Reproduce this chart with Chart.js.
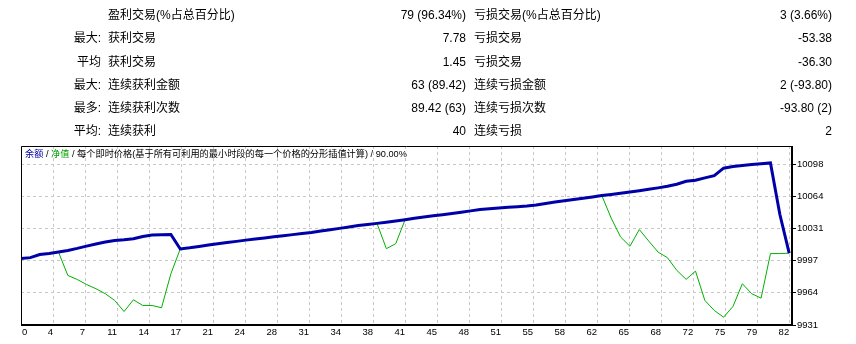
<!DOCTYPE html>
<html><head><meta charset="utf-8">
<script src="https://cdn.jsdelivr.net/npm/chart.js@4.4.1/dist/chart.umd.min.js"></script>
<style>
html,body{margin:0;padding:0;background:#fff;width:856px;height:344px;overflow:hidden;}
#wrap{position:relative;width:856px;height:344px;}
canvas{position:absolute;left:0;top:0;}
.t{position:absolute;font-family:"Liberation Sans","Noto Sans CJK SC",sans-serif;font-size:12px;line-height:16px;color:#000;white-space:nowrap;z-index:2;}
#legend{position:absolute;left:25px;top:148px;font-family:"Liberation Sans","Noto Sans CJK SC",sans-serif;font-size:9.2px;line-height:12px;white-space:nowrap;color:#000;z-index:2;}
</style></head>
<body><div id="wrap"><canvas id="c" width="856" height="344"></canvas><div id="stats"></div><div id="legend"></div></div>
<script>
// ---- summary table ----
const statPrefixes = ["", "最大:", "平均", "最大:", "最多:", "平均:"];
const winLabels = ["盈利交易(%占总百分比)", "获利交易", "获利交易", "连续获利金额", "连续获利次数", "连续获利"];
const winValues = ["79 (96.34%)", "7.78", "1.45", "63 (89.42)", "89.42 (63)", "40"];
const lossLabels = ["亏损交易(%占总百分比)", "亏损交易", "亏损交易", "连续亏损金额", "连续亏损次数", "连续亏损"];
const lossValues = ["3 (3.66%)", "-53.38", "-36.30", "2 (-93.80)", "-93.80 (2)", "2"];

// ---- legend text ----
const legendParts = [
  {text: "余额", color: "#0000a0"},
  {text: " / ", color: "#000"},
  {text: "净值", color: "#00a000"},
  {text: " / 每个即时价格(基于所有可利用的最小时段的每一个价格的分形插值计算) / 90.00%", color: "#000"}
];

// ---- axes ----
const xTickLabels = ["0","4","7","11","14","17","21","24","28","31","34","38","41","45","48","51","55","58","62","65","68","72","75","79","82"];
const yTickValues = [9931, 9964.4, 9997.8, 10031.2, 10064.6, 10098];
const yTickLabels = ["9931","9964","9997","10031","10064","10098"];

// ---- series (trade number 0..82) ----
const balance = [
  10000.00,10001.00,10004.20,10005.30,10006.80,10008.50,10010.60,10013.00,10015.20,10017.30,
  10018.90,10019.60,10020.60,10023.00,10024.60,10024.90,10025.13,10010.03,10011.20,10012.60,
  10014.10,10015.50,10016.70,10017.90,10019.20,10020.40,10021.50,10022.70,10023.80,10024.90,
  10026.00,10027.10,10028.60,10030.00,10031.40,10032.90,10034.30,10035.50,10036.60,10037.70,
  10039.00,10040.40,10042.00,10043.30,10044.60,10045.60,10046.80,10048.20,10049.60,10050.90,
  10051.80,10052.60,10053.30,10053.90,10054.60,10055.60,10057.30,10058.70,10060.00,10061.40,
  10062.80,10064.10,10065.50,10066.70,10068.00,10069.30,10070.60,10072.00,10073.50,10075.20,
  10077.30,10080.30,10081.40,10083.90,10086.20,10093.98,10095.60,10096.80,10097.70,10098.60,
  10099.45,10046.07,10005.65
];
const equity = [
  10000.00,10001.00,10004.20,10005.30,10006.80,9982.50,9978.30,9973.10,9968.70,9963.50,
  9956.50,9945.00,9957.20,9951.30,9951.30,9948.90,9984.30,10010.03,10011.20,10012.60,
  10014.10,10015.50,10016.70,10017.90,10019.20,10020.40,10021.50,10022.70,10023.80,10024.90,
  10026.00,10027.10,10028.60,10030.00,10031.40,10032.90,10034.30,10035.50,10036.60,10010.30,
  10015.50,10040.40,10042.00,10043.30,10044.60,10045.60,10046.80,10048.20,10049.60,10050.90,
  10051.80,10052.60,10053.30,10053.90,10054.60,10055.60,10057.30,10058.70,10060.00,10061.40,
  10062.80,10064.10,10065.50,10042.00,10022.50,10012.80,10030.20,10018.30,10006.80,10001.00,
  9987.80,9978.40,9987.00,9956.50,9946.10,9939.10,9950.30,9973.90,9963.50,9958.90,
  10005.20,10005.20,10005.65
];

// build the table
const rowCenters = [15.3, 38.4, 61.5, 84.6, 107.6, 130.6];
let html = "";
function cell(text, y, left, right){
  const pos = left !== null ? `left:${left}px;` : `right:${856-right}px;text-align:right;`;
  return `<div class="t" style="top:${y-8}px;${pos}">${text}</div>`;
}
for (let r = 0; r < winLabels.length; r++){
  const y = rowCenters[r];
  if (statPrefixes[r]) html += cell(statPrefixes[r], y, null, 101);
  html += cell(winLabels[r], y, 108, null);
  html += cell(winValues[r], y, null, 466);
  html += cell(lossLabels[r], y, 474, null);
  html += cell(lossValues[r], y, null, 832);
}
document.getElementById("stats").innerHTML = html;
document.getElementById("legend").innerHTML = legendParts.map(p => `<span style="color:${p.color}">${p.text.replace(/ /g,'&nbsp;')}</span>`).join("");

const tickFont = {family: 'Liberation Sans', size: 9.5};

const framePlugin = {
  id: 'frame',
  afterDatasetsDraw(chart){
    const {ctx, chartArea: a} = chart;
    ctx.save();
    ctx.strokeStyle = '#000';
    ctx.lineWidth = 1;
    ctx.beginPath();
    ctx.moveTo(a.left + 0.5, a.bottom);
    ctx.lineTo(a.left + 0.5, a.top + 0.5);
    ctx.lineTo(a.right, a.top + 0.5);
    ctx.stroke();
    ctx.lineWidth = 2;
    ctx.beginPath();
    ctx.moveTo(a.left, a.bottom);
    ctx.lineTo(a.right, a.bottom);
    ctx.lineTo(a.right, a.top);
    ctx.stroke();
    // x-axis labels: right edge at tick, first one starts at the frame
    const xs = chart.scales.x;
    ctx.fillStyle = '#000';
    ctx.font = `${tickFont.size}px "${tickFont.family}"`;
    ctx.textBaseline = 'middle';
    xs.ticks.forEach((t, i) => {
      const px = xs.getPixelForValue(t.value);
      ctx.textAlign = i === 0 ? 'left' : 'right';
      ctx.fillText(xTickLabels[i], i === 0 ? px + 1 : px, 332.5);
    });
    ctx.restore();
  }
};

new Chart(document.getElementById('c'), {
  type: 'line',
  data: {
    datasets: [
      {label: '余额', data: balance.map((v,i)=>({x:i, y:v})), borderColor: '#0000a8', borderWidth: 3, pointRadius: 0, tension: 0, fill: false},
      {label: '净值', data: equity.map((v,i)=>({x:i, y:v})), borderColor: '#00b000', borderWidth: 1, pointRadius: 0, tension: 0, fill: false}
    ]
  },
  options: {
    responsive: false,
    devicePixelRatio: 1,
    animation: false,
    layout: {padding: {left: 21, top: 146, right: 0, bottom: 0}},
    plugins: {legend: {display: false}, tooltip: {enabled: false}},
    scales: {
      x: {
        type: 'linear', min: 0, max: 82.3,
        afterBuildTicks: s => { s.ticks = xTickLabels.map((l,i)=>({value: i*82/24})); },
        afterFit: s => { s.height = 19; },
        grid: {color: '#c8c8c8', drawTicks: false},
        border: {display: false, dash: [3,3]},
        ticks: {display: false}
      },
      y: {
        type: 'linear', position: 'right', min: 9931, max: 10117,
        afterBuildTicks: s => { s.ticks = yTickValues.map(v=>({value: v})); },
        afterFit: s => { s.width = 64; },
        grid: {color: '#c8c8c8', drawTicks: true, tickLength: 4, tickColor: '#000', tickBorderDash: []},
        border: {display: false, dash: [3,3]},
        ticks: {padding: 1, color: '#000', font: tickFont, callback: (v, i) => yTickLabels[i]}
      }
    }
  },
  plugins: [framePlugin]
});
</script>
</body></html>
